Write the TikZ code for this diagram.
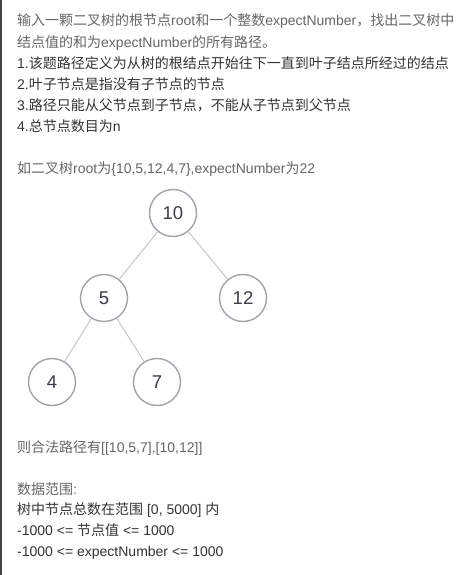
\documentclass[tikz,border=0pt]{standalone}
\usepackage{fontspec}
\setmainfont{Liberation Sans}
\newfontfamily\cjkfont{Noto Sans CJK SC}
\newcommand\zh[1]{{\cjkfont #1}}
\definecolor{txtgray}{HTML}{666666}
\definecolor{txtdark}{HTML}{333333}
\definecolor{ringgray}{HTML}{A2A4AA}
\definecolor{edgegray}{HTML}{C4C6CC}
\definecolor{numcol}{HTML}{3A3F45}
\definecolor{barcol}{HTML}{444444}
\begin{document}
\begin{tikzpicture}[x=1pt,y=-1pt,
  line/.style={anchor=base west,inner sep=0pt,font=\fontsize{14}{21}\selectfont},
  gline/.style={line,text=txtgray},
  dline/.style={line,text=txtdark},
  tnode/.style={circle,draw=ringgray,line width=1.4pt,fill=white,minimum size=47pt,inner sep=0pt,text=numcol,font=\fontsize{18.5}{20}\selectfont},
  tedge/.style={draw=edgegray,line width=1pt}]
\useasboundingbox (0,0) rectangle (464,575);
\fill[white] (0,0) rectangle (464,575);
\fill[barcol] (0,0) rectangle (2,575);
% text lines
\node[gline] (l1) at (17,26) {\zh{输入一颗二叉树的根节点}root\zh{和一个整数}expectNumber\zh{，找出二叉树中}};
\node[gline] (l2) at (17,47.3) {\zh{结点值的和为}expectNumber\zh{的所有路径。}};
\node[dline] (l3) at (17,68.5) {1.\zh{该题路径定义为从树的根结点开始往下一直到叶子结点所经过的结点}};
\node[dline] (l4) at (17,89.5) {2.\zh{叶子节点是指没有子节点的节点}};
\node[dline] (l5) at (17,110.5) {3.\zh{路径只能从父节点到子节点，不能从子节点到父节点}};
\node[dline] (l6) at (17,131.7) {4.\zh{总节点数目为}n};
\node[gline] (l7) at (17,173) {\zh{如二叉树}root\zh{为}\{10,5,12,4,7\},expectNumber\zh{为}22};
\node[gline] (l8) at (17,452) {\zh{则合法路径有}[[10,5,7],[10,12]]};
\node[gline] (l9) at (17,494) {\zh{数据范围}:};
\node[dline] (l10) at (17,514.5) {\zh{树中节点总数在范围} [0, 5000] \zh{内}};
\node[dline] (l11) at (17,535.5) {-1000 <= \zh{节点值} <= 1000};
\node[dline] (l12) at (17,556.5) {-1000 <= expectNumber <= 1000};
% tree
\node[tnode] (n10) at (173,213) {10};
\node[tnode] (n5) at (104,298) {5};
\node[tnode] (n12) at (243,298) {12};
\node[tnode] (n4) at (52,382) {4};
\node[tnode] (n7) at (157,382) {7};
\draw[tedge] (n10) -- (n5);
\draw[tedge] (n10) -- (n12);
\draw[tedge] (n5) -- (n4);
\draw[tedge] (n5) -- (n7);
\end{tikzpicture}
\end{document}
